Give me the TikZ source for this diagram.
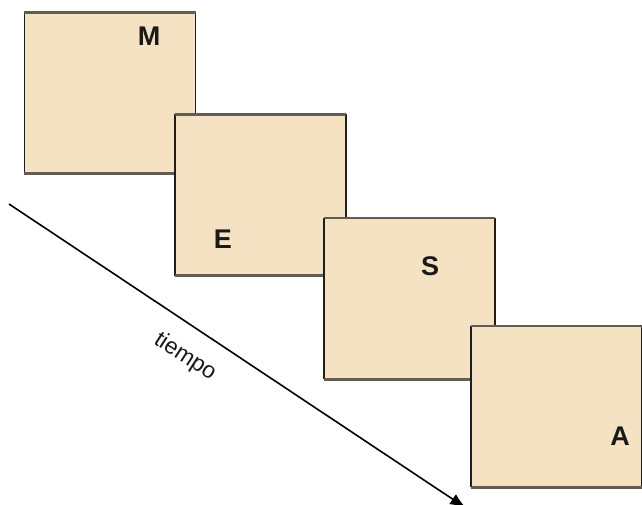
\documentclass[tikz,border=0pt]{standalone}
\usepackage{fontspec}
\setmainfont{Liberation Sans}
\usetikzlibrary{arrows.meta}
\definecolor{paper}{HTML}{F5E2C2}
\definecolor{edgegray}{HTML}{625C53}
\definecolor{edgeside}{HTML}{1E1E1E}
\tikzset{
  card/.style={rectangle, fill=paper, draw=none, inner sep=0pt,
               minimum width=171pt, minimum height=161pt},
  letter/.style={font=\fontsize{27}{27}\selectfont\bfseries, text=black!90, inner sep=0pt},
  hedge/.style={draw=edgegray, line width=2.6pt},
  vedge/.style={draw=edgeside, line width=1.5pt},
  timeline/.style={draw=black, line width=1.6pt, -{Latex[length=16pt,width=12pt]}},
  timelabel/.style={font=\fontsize{23}{23}\selectfont, text=black!90, inner sep=0pt}
}
\newcommand{\cardedges}[1]{%
  \draw[vedge] (#1.north west) -- (#1.south west);
  \draw[vedge] (#1.north east) -- (#1.south east);
  \draw[hedge] (#1.north west) -- (#1.north east);
  \draw[hedge] (#1.south west) -- (#1.south east);
}
\begin{document}
\begin{tikzpicture}[x=1pt,y=-1pt]
  \useasboundingbox (0,0) rectangle (642,504);
  \clip (0,0) rectangle (642,504);

  % time axis
  \coordinate (t0) at (9,204);
  \coordinate (t1) at (466,508);
  \draw[timeline] (t0) -- (t1);
  \node[timelabel, rotate=-33] (tl) at (185,357) {tiempo};

  % cards, each one laid over the previous
  \node[card] (m) at (110,93) {};
  \cardedges{m}
  \node[letter] (lm) at (149,36) {M};

  \node[card] (e) at (260.5,195) {};
  \cardedges{e}
  \node[letter] (le) at (223,239) {E};

  \node[card] (s) at (409.5,298.5) {};
  \cardedges{s}
  \node[letter] (ls) at (430,266) {S};

  \node[card] (a) at (556.5,406.5) {};
  \cardedges{a}
  \node[letter] (la) at (620,436) {A};
\end{tikzpicture}
\end{document}
